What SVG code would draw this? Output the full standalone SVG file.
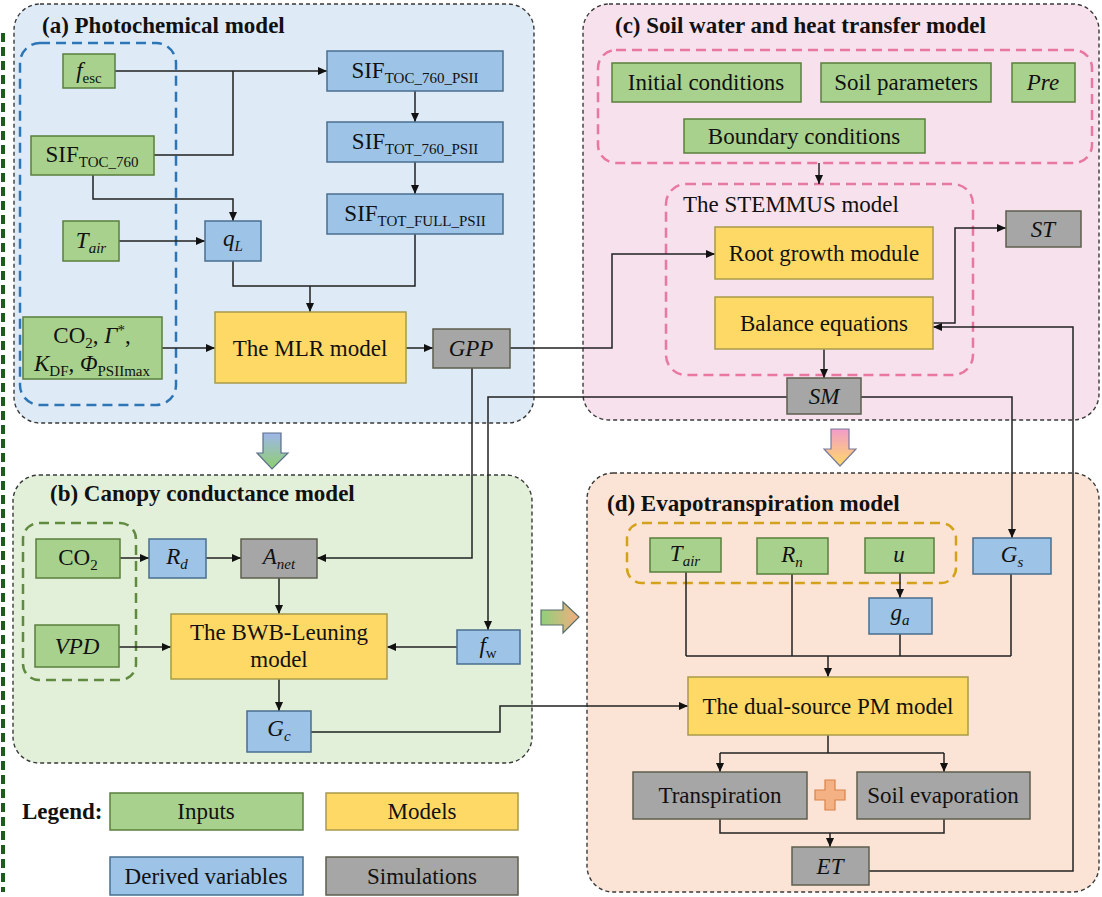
<svg xmlns="http://www.w3.org/2000/svg" width="1102" height="897" viewBox="0 0 1102 897">
<defs>
<style>
.t{font-family:"Liberation Serif","Times New Roman",serif;font-size:23px;fill:#111;text-anchor:middle}
.ttl{font-family:"Liberation Serif","Times New Roman",serif;font-size:23px;font-weight:bold;fill:#111}
.it{font-style:italic}
.sb{font-size:15px}
.panel{stroke:#3a3a3a;stroke-width:1.4;stroke-dasharray:4 3}
.inp{fill:#a9d18e;stroke:#5a7f3c;stroke-width:1.5}
.mdl{fill:#ffd966;stroke:#a89a4a;stroke-width:1.5}
.der{fill:#9dc3e6;stroke:#4a6f8f;stroke-width:1.5}
.sim{fill:#a6a6a6;stroke:#5e5e4e;stroke-width:1.5}
.grp{fill:none;stroke-width:2.5;stroke-dasharray:10 6}
.c{fill:none;stroke:#222;stroke-width:1.5}
.ca{fill:none;stroke:#222;stroke-width:1.5;marker-end:url(#ah)}
</style>
<marker id="ah" markerUnits="userSpaceOnUse" markerWidth="9" markerHeight="8" refX="9" refY="4" orient="auto">
<path d="M0,0 L9,4 L0,8 z" fill="#111"/>
</marker>
<linearGradient id="gab" x1="0" y1="0" x2="0" y2="1"><stop offset="0" stop-color="#9fb6ea"/><stop offset="1" stop-color="#8fcf6e"/></linearGradient>
<linearGradient id="gcd" x1="0" y1="0" x2="0" y2="1"><stop offset="0" stop-color="#f29ccb"/><stop offset="1" stop-color="#ffd966"/></linearGradient>
<linearGradient id="gbd" x1="0" y1="0" x2="1" y2="0"><stop offset="0" stop-color="#8fd07a"/><stop offset="1" stop-color="#f4ad7f"/></linearGradient>
</defs>
<rect width="1102" height="897" fill="#ffffff"/>
<line x1="3" y1="33" x2="3" y2="892" stroke="#1a5e1a" stroke-width="4" stroke-dasharray="9 5"/>

<g id="panel-a">
<rect x="14" y="4" width="520" height="419" rx="26" fill="#deebf7" class="panel"/>
<text class="ttl" x="42" y="33">(a) Photochemical model</text>
<rect x="20" y="43" width="156" height="362" rx="20" class="grp" stroke="#2e75b6"/>
</g>
<g id="panel-b">
<rect x="13" y="475" width="519" height="288" rx="26" fill="#e2f0d9" class="panel"/>
<text class="ttl" x="50" y="501">(b) Canopy conductance model</text>
<rect x="23" y="523" width="113" height="157" rx="16" class="grp" stroke="#5f8a3f"/>
</g>
<g id="panel-c">
<rect x="583" y="4" width="516" height="416" rx="26" fill="#f7e1ec" class="panel"/>
<text class="ttl" x="615" y="33">(c) Soil water and heat transfer model</text>
<rect x="598" y="50" width="494" height="113" rx="18" class="grp" stroke="#e8789f"/>
<rect x="666" y="184" width="307" height="191" rx="20" class="grp" stroke="#e8789f"/>
<text class="t" x="683" y="212" style="text-anchor:start">The STEMMUS model</text>
</g>
<g id="panel-d">
<rect x="587" y="473" width="512" height="419" rx="26" fill="#fbe4d6" class="panel"/>
<text class="ttl" x="607" y="511">(d) Evapotranspiration model</text>
<rect x="627" y="523" width="329" height="60" rx="15" class="grp" stroke="#d4a21a"/>
</g>

<g id="block-arrows">
<polygon points="263,433 281,433 281,453 288,453 272,469 257,453 263,453" fill="url(#gab)" stroke="#5a6e8a" stroke-width="1.2"/>
<polygon points="831,429 849,429 849,449 856,449 840,466 824,449 831,449" fill="url(#gcd)" stroke="#7a7a9a" stroke-width="1.2"/>
<polygon points="541,610 563,610 563,602 579,617 563,633 563,625 541,625" fill="url(#gbd)" stroke="#5a6e6a" stroke-width="1.2"/>
</g>

<g id="connectors">
<path class="ca" d="M115,71 H327"/>
<path class="c" d="M154,155 H233 V71"/>
<path class="ca" d="M93,175 V199 H233 V221"/>
<path class="ca" d="M119,241 H205"/>
<path class="c" d="M233,261 V286 H415 V234"/>
<path class="ca" d="M310,286 V312"/>
<path class="ca" d="M415,91 V122"/>
<path class="ca" d="M415,162 V194"/>
<path class="ca" d="M162,348 H215"/>
<path class="ca" d="M406,348 H433"/>
<path class="ca" d="M510,348 H612 V254 H715"/>
<path class="ca" d="M472,368 V558 H317"/>
<path class="ca" d="M787,397 H488 V630"/>
<path class="ca" d="M120,558 H149"/>
<path class="ca" d="M206,558 H241"/>
<path class="ca" d="M279,578 V614"/>
<path class="ca" d="M119,647 H171"/>
<path class="ca" d="M457,647 H387"/>
<path class="ca" d="M279,679 V711"/>
<path class="ca" d="M311,732 H500 V706 H688"/>
<path class="ca" d="M819,163 V184"/>
<path class="ca" d="M824,349 V378"/>
<path class="ca" d="M933,323 H955 V228 H1006"/>
<path class="ca" d="M869,871 H1073 V327 H933"/>
<path class="ca" d="M861,397 H1012 V538"/>
<path class="ca" d="M900,573 V598"/>
<path class="c" d="M686,572 V656 M792,574 V656 M900,634 V656 M1011,574 V656 M686,656 H1011"/>
<path class="ca" d="M828,656 V677"/>
<path class="c" d="M828,735 V753 M720,753 H944"/>
<path class="ca" d="M720,753 V772"/>
<path class="ca" d="M944,753 V772"/>
<path class="c" d="M720,819 V833 H944 V819"/>
<path class="ca" d="M830,833 V847"/>
</g>

<g id="n-fesc"><rect x="63" y="54" width="52" height="34" class="inp"/><text class="t" x="89" y="78"><tspan class="it">f</tspan><tspan class="sb" dy="5">esc</tspan></text></g>
<g id="n-sif-toc760"><rect x="31" y="136" width="123" height="39" class="inp"/><text class="t" x="92" y="162">SIF<tspan class="sb" dy="5">TOC_760</tspan></text></g>
<g id="n-tair-a"><rect x="63" y="221" width="56" height="40" class="inp"/><text class="t" x="91" y="248"><tspan class="it">T</tspan><tspan class="sb it" dy="5">air</tspan></text></g>
<g id="n-co2-a"><rect x="23" y="317" width="139" height="62" class="inp"/>
<text class="t" x="92" y="343">CO<tspan class="sb" dy="5">2</tspan><tspan dy="-5">, </tspan><tspan class="it">Γ</tspan><tspan class="sb" dy="-8">*</tspan><tspan dy="8">,</tspan></text>
<text class="t" x="92" y="371"><tspan class="it">K</tspan><tspan class="sb" dy="5">DF</tspan><tspan dy="-5">, </tspan><tspan class="it">Φ</tspan><tspan class="sb" dy="5">PSIImax</tspan></text></g>
<g id="n-ql"><rect x="205" y="221" width="56" height="40" class="der"/><text class="t" x="233" y="246"><tspan class="it">q</tspan><tspan class="sb it" dy="5">L</tspan></text></g>
<g id="n-mlr"><rect x="215" y="312" width="191" height="71" class="mdl"/><text class="t" x="310" y="356">The MLR model</text></g>
<g id="n-gpp"><rect x="433" y="329" width="77" height="39" class="sim"/><text class="t it" x="471" y="356">GPP</text></g>
<g id="n-sif1"><rect x="327" y="51" width="176" height="40" class="der"/><text class="t" x="415" y="78">SIF<tspan class="sb" dy="5">TOC_760_PSII</tspan></text></g>
<g id="n-sif2"><rect x="327" y="122" width="176" height="40" class="der"/><text class="t" x="415" y="149">SIF<tspan class="sb" dy="5">TOT_760_PSII</tspan></text></g>
<g id="n-sif3"><rect x="327" y="194" width="176" height="40" class="der"/><text class="t" x="415" y="221">SIF<tspan class="sb" dy="5">TOT_FULL_PSII</tspan></text></g>

<g id="n-co2-b"><rect x="36" y="539" width="84" height="39" class="inp"/><text class="t" x="78" y="565">CO<tspan class="sb" dy="5">2</tspan></text></g>
<g id="n-vpd"><rect x="35" y="625" width="84" height="42" class="inp"/><text class="t it" x="77" y="654">VPD</text></g>
<g id="n-rd"><rect x="149" y="539" width="57" height="39" class="der"/><text class="t" x="177" y="564"><tspan class="it">R</tspan><tspan class="sb it" dy="5">d</tspan></text></g>
<g id="n-anet"><rect x="241" y="539" width="76" height="39" class="sim"/><text class="t" x="279" y="564"><tspan class="it">A</tspan><tspan class="sb it" dy="5">net</tspan></text></g>
<g id="n-bwb"><rect x="171" y="614" width="216" height="65" class="mdl"/><text class="t" x="279" y="640">The BWB-Leuning</text><text class="t" x="279" y="667">model</text></g>
<g id="n-fw"><rect x="457" y="630" width="63" height="34" class="der"/><text class="t" x="488" y="653"><tspan class="it">f</tspan><tspan class="sb" dy="5">w</tspan></text></g>
<g id="n-gc"><rect x="247" y="711" width="64" height="41" class="der"/><text class="t" x="279" y="736"><tspan class="it">G</tspan><tspan class="sb it" dy="5">c</tspan></text></g>

<g id="n-init"><rect x="612" y="63" width="189" height="39" class="inp"/><text class="t" x="706" y="90">Initial conditions</text></g>
<g id="n-soilp"><rect x="821" y="63" width="170" height="39" class="inp"/><text class="t" x="906" y="90">Soil parameters</text></g>
<g id="n-pre"><rect x="1012" y="63" width="63" height="39" class="inp"/><text class="t it" x="1043" y="90">Pre</text></g>
<g id="n-bound"><rect x="684" y="119" width="241" height="34" class="inp"/><text class="t" x="804" y="144">Boundary conditions</text></g>
<g id="n-root"><rect x="715" y="227" width="218" height="52" class="mdl"/><text class="t" x="824" y="261">Root growth module</text></g>
<g id="n-bal"><rect x="715" y="297" width="218" height="52" class="mdl"/><text class="t" x="824" y="331">Balance equations</text></g>
<g id="n-st"><rect x="1006" y="211" width="75" height="36" class="sim"/><text class="t it" x="1043" y="237">ST</text></g>
<g id="n-sm"><rect x="787" y="378" width="74" height="36" class="sim"/><text class="t it" x="824" y="404">SM</text></g>

<g id="n-tair-d"><rect x="650" y="538" width="71" height="34" class="inp"/><text class="t" x="685" y="561"><tspan class="it">T</tspan><tspan class="sb it" dy="5">air</tspan></text></g>
<g id="n-rn"><rect x="757" y="538" width="71" height="36" class="inp"/><text class="t" x="792" y="562"><tspan class="it">R</tspan><tspan class="sb it" dy="5">n</tspan></text></g>
<g id="n-u"><rect x="865" y="538" width="69" height="35" class="inp"/><text class="t it" x="899" y="562">u</text></g>
<g id="n-gs"><rect x="973" y="538" width="78" height="36" class="der"/><text class="t" x="1012" y="562"><tspan class="it">G</tspan><tspan class="sb it" dy="5">s</tspan></text></g>
<g id="n-ga"><rect x="869" y="598" width="63" height="36" class="der"/><text class="t" x="900" y="620"><tspan class="it">g</tspan><tspan class="sb it" dy="5">a</tspan></text></g>
<g id="n-pm"><rect x="688" y="677" width="280" height="58" class="mdl"/><text class="t" x="828" y="714">The dual-source PM model</text></g>
<g id="n-trans"><rect x="633" y="772" width="174" height="47" class="sim"/><text class="t" x="720" y="803">Transpiration</text></g>
<g id="n-plus"><path d="M825,780 H835 V790 H845 V800 H835 V810 H825 V800 H815 V790 H825 Z" fill="#f4b183" stroke="#d9824a" stroke-width="1.2"/></g>
<g id="n-soile"><rect x="857" y="772" width="173" height="47" class="sim"/><text class="t" x="943" y="803">Soil evaporation</text></g>
<g id="n-et"><rect x="792" y="847" width="77" height="38" class="sim"/><text class="t it" x="830" y="874">ET</text></g>

<g id="legend">
<text class="ttl" x="22" y="819">Legend:</text>
<rect x="110" y="793" width="193" height="37" class="inp"/><text class="t" x="206" y="819">Inputs</text>
<rect x="326" y="793" width="192" height="37" class="mdl"/><text class="t" x="422" y="819">Models</text>
<rect x="110" y="857" width="193" height="38" class="der"/><text class="t" x="206" y="884">Derived variables</text>
<rect x="326" y="857" width="192" height="38" class="sim"/><text class="t" x="422" y="884">Simulations</text>
</g>
</svg>
